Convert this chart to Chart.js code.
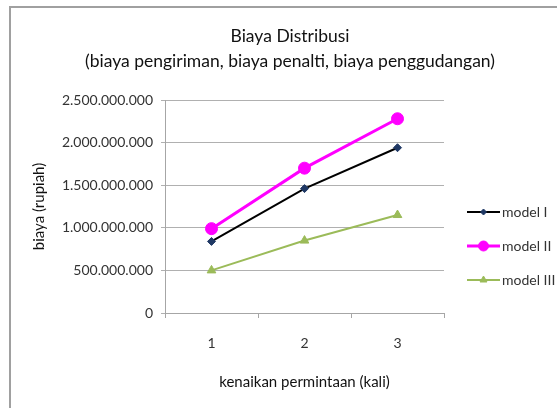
<!DOCTYPE html>
<html>
<head>
<meta charset="utf-8">
<script src="https://cdn.jsdelivr.net/npm/chart.js@4.4.1/dist/chart.umd.min.js"></script>
<style>
html,body{margin:0;padding:0;background:#fff;overflow:hidden;}
#wrap{position:relative;width:557px;height:408px;overflow:hidden;}
#frame{position:absolute;left:9px;top:6px;width:700px;height:600px;border:2px solid #a0a0a0;box-sizing:border-box;}
canvas{position:absolute;left:0;top:0;}
</style>
</head>
<body>
<div id="wrap">
<div id="frame"></div>
<canvas id="c" width="557" height="408"></canvas>
</div>
<script>
const categories = ['1', '2', '3'];
const seriesNames = ['model I', 'model II', 'model III'];
const modelI = [840000000, 1460000000, 1940000000];
const modelII = [990000000, 1700000000, 2280000000];
const modelIII = [500000000, 850000000, 1150000000];
const yTicks = [0, 500000000, 1000000000, 1500000000, 2000000000, 2500000000];
const titleLines = ['Biaya Distribusi', '(biaya pengiriman, biaya penalti, biaya penggudangan)'];
const xTitle = 'kenaikan permintaan (kali)';
const yTitle = 'biaya (rupiah)';

const FONT = "Lato, 'Open Sans', sans-serif";

function fmt(v){
  return String(Math.round(v)).replace(/\B(?=(\d{3})+(?!\d))/g, '.');
}

const overlay = {
  id: 'overlay',
  afterDraw(chart){
    const ctx = chart.ctx;
    ctx.save();
    ctx.fillStyle = '#111';
    ctx.textAlign = 'center';
    ctx.textBaseline = 'middle';
    ctx.font = "17.5px " + FONT;
    ctx.fillText(titleLines[0], 290, 36);
    ctx.fillText(titleLines[1], 290, 61);
    // legend
    const rows = [212, 246, 280];
    chart.data.datasets.forEach((ds, i) => {
      const y = rows[i];
      ctx.strokeStyle = ds.borderColor;
      ctx.lineWidth = ds.borderWidth;
      ctx.beginPath();
      ctx.moveTo(467, y);
      ctx.lineTo(500, y);
      ctx.stroke();
      ctx.fillStyle = ds.pointBackgroundColor;
      ctx.strokeStyle = ds.pointBorderColor;
      ctx.lineWidth = 1;
      Chart.helpers.drawPoint(ctx, {
        pointStyle: ds.pointStyle,
        radius: ds.pointRadius - 1,
        borderWidth: 1
      }, 483.5, y);
      ctx.fillStyle = '#333';
      ctx.textAlign = 'left';
      ctx.font = "14px " + FONT;
      ctx.fillText(ds.label, 502, y);
    });
    ctx.restore();
  }
};

const datasets = [
  {label: seriesNames[0], data: modelI, borderColor: '#000000', borderWidth: 2,
   pointStyle: 'rectRot', pointRadius: 4, pointBackgroundColor: '#1f3864', pointBorderColor: '#1f3864'},
  {label: seriesNames[1], data: modelII, borderColor: '#ff00ff', borderWidth: 3,
   pointStyle: 'circle', pointRadius: 6, pointBackgroundColor: '#ff00ff', pointBorderColor: '#ff00ff'},
  {label: seriesNames[2], data: modelIII, borderColor: '#9bbb59', borderWidth: 2,
   pointStyle: 'triangle', pointRadius: 5, pointBackgroundColor: '#9bbb59', pointBorderColor: '#9bbb59'}
];
datasets.forEach(d => { d.tension = 0; d.fill = false; d.pointBorderWidth = 1; });

new Chart(document.getElementById('c'), {
  type: 'line',
  data: {labels: categories, datasets},
  options: {
    responsive: false,
    animation: false,
    events: [],
    layout: {padding: {left: 20, top: 100, right: 113, bottom: 0}},
    plugins: {legend: {display: false}, title: {display: false}, tooltip: {enabled: false}},
    scales: {
      x: {
        offset: true,
        grid: {display: true, drawOnChartArea: false, offset: true, tickLength: 5, color: '#a6a6a6'},
        border: {display: true, color: '#a6a6a6', width: 1},
        ticks: {color: '#333', font: {family: FONT, size: 14}, padding: 17},
        title: {display: true, text: xTitle, color: '#111', font: {family: FONT, size: 15}, padding: {top: 0, bottom: 17}},
        afterFit(s){ s.height = 95; }
      },
      y: {
        min: 0, max: 2500000000,
        afterBuildTicks(s){ s.ticks = yTicks.map(v => ({value: v})); },
        grid: {color: '#b0b0b0', tickLength: 4},
        border: {display: true, color: '#a6a6a6', width: 1},
        ticks: {color: '#333', font: {family: FONT, size: 14}, padding: 8, callback: v => fmt(v)},
        title: {display: true, text: yTitle, color: '#111', font: {family: FONT, size: 15}, padding: {top: 10, bottom: 0}},
        afterFit(s){ s.width = 145; }
      }
    }
  },
  plugins: [overlay]
});
</script>
</body>
</html>
